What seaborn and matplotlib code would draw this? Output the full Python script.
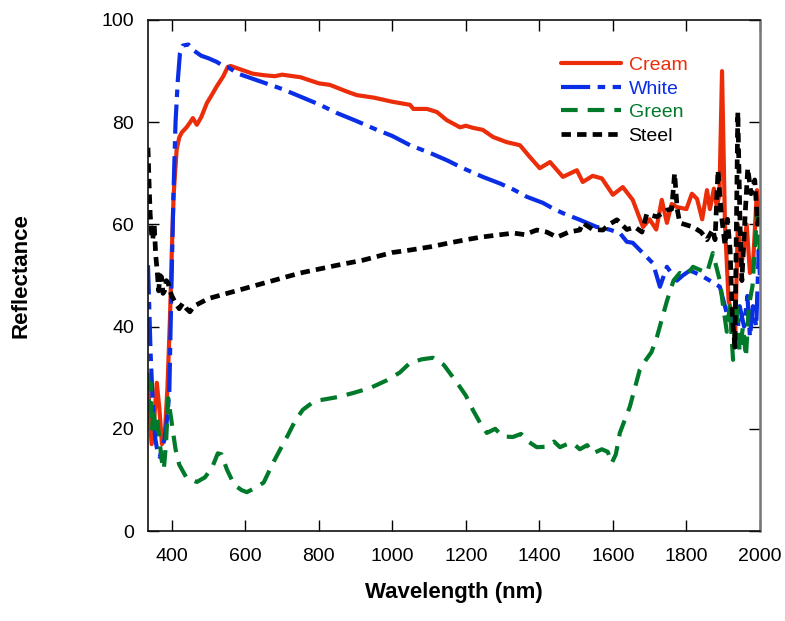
import matplotlib
matplotlib.use("Agg")
import matplotlib.pyplot as plt
import seaborn as sns
import pandas as pd

# wavelength (nm) / reflectance (%)
cream_x = [335, 340, 345, 352, 359, 366, 373, 380, 388, 395, 400, 405, 413, 420, 427, 440, 450, 457, 468, 480,
           495, 510, 522, 540, 552, 560, 580, 600, 620, 650, 680, 700, 750, 800, 830, 876, 903, 950, 1000, 1048,
           1057, 1094, 1121, 1148, 1184, 1200, 1219, 1246, 1274, 1311, 1347, 1374, 1401, 1429, 1464, 1502, 1518,
           1545, 1570, 1600, 1627, 1654, 1682, 1700, 1718, 1733, 1747, 1760, 1774, 1800, 1815, 1829, 1843, 1856,
           1864, 1875, 1883, 1890, 1897, 1905, 1915, 1927, 1932, 1940, 1950, 1964, 1973, 1982, 1992, 2000]
cream_y = [30, 22, 17, 22, 29, 24, 17, 18, 28, 42, 55, 66, 74.6, 77, 78, 79, 80, 80.8, 79.5, 81,
           83.7, 85.5, 87, 89, 90.8, 91, 90.5, 90, 89.5, 89.2, 89, 89.3, 88.8, 87.6, 87.3, 86, 85.3, 84.8, 84, 83.4,
           82.6, 82.6, 82, 80.4, 79, 79.3, 78.9, 78.5, 77.1, 76.1, 75.5, 73.2, 71, 72.2, 69.3, 70.6, 68.3,
           69.5, 69, 65.8, 67.3, 64.8, 59.5, 61, 59, 64.8, 60.3, 64, 63.4, 63, 66, 65, 61, 66.7,
           63, 67, 63.4, 66, 90, 60, 45, 42, 36, 60, 52, 60, 50.5, 53, 66.7, 60]

white_x = [335, 338, 342, 348, 355, 361, 367, 373, 380, 387, 393, 398, 404, 410, 416, 422, 430, 445, 460, 480,
           500, 522, 540, 552, 580, 620, 660, 700, 750, 800, 849, 900, 958, 1000, 1048, 1102, 1150, 1192, 1246,
           1293, 1330, 1366, 1410, 1440, 1464, 1510, 1556, 1590, 1619, 1638, 1654, 1680, 1709, 1728, 1747, 1774,
           1790, 1810, 1840, 1864, 1891, 1910, 1927, 1936, 1945, 1957, 1966, 1973, 1981, 1990, 1997, 2000]
white_y = [52, 45, 35, 25, 18, 15.5, 14.5, 16, 18, 22, 27, 45, 65, 80, 88, 93.5, 95, 95.2, 94, 93,
           92.5, 91.8, 91, 90.8, 89.5, 88.5, 87.5, 86.5, 85, 83.5, 81.8, 80.3, 78.5, 77.3, 75.5, 74, 72.5, 71, 69.3,
           68, 66.8, 65.4, 64.2, 63, 62.2, 60.9, 59.5, 59, 58.3, 56.6, 56.4, 54.5, 52.4, 47.8, 51.7, 49,
           50, 51, 50, 49, 47.8, 42.6, 41.3, 36, 44, 40, 46, 38, 44, 40, 55, 50]

green_x = [335, 338, 342, 346, 350, 355, 360, 366, 372, 378, 384, 390, 396, 402, 410, 420, 440, 468, 490, 510,
           525, 535, 550, 570, 590, 604, 631, 650, 675, 695, 716, 735, 756, 780, 803, 850, 893, 940, 985, 1020,
           1048, 1080, 1110, 1140, 1176, 1200, 1219, 1240, 1257, 1280, 1300, 1328, 1350, 1370, 1393, 1420, 1440,
           1456, 1475, 1491, 1510, 1530, 1546, 1570, 1586, 1597, 1608, 1619, 1646, 1673, 1690, 1705, 1720, 1747,
           1765, 1782, 1800, 1818, 1840, 1856, 1872, 1891, 1900, 1910, 1918, 1927, 1936, 1945, 1954, 1962, 1970,
           1980, 1992, 2000]
green_y = [31, 24, 29, 20, 24, 20, 22, 18, 14, 12, 17, 26, 23, 20, 16, 13, 10.4, 9.6, 10.5, 12.5,
           15.2, 15, 12, 9, 8, 7.6, 8.6, 9.5, 13.3, 16, 18.8, 21.5, 23.7, 25, 25.6, 26.2, 27, 28, 29.5, 31,
           32.9, 33.6, 33.9, 32.5, 29, 26.5, 23.7, 21, 19.2, 20, 18.5, 18.4, 19, 17.5, 16.4, 16.5, 17.5,
           16.4, 17, 17.2, 16, 16.8, 15.2, 16, 15.5, 13.3, 15, 19.2, 24.3, 31.5, 33.5, 35, 38, 45,
           49, 50.5, 50, 51.7, 51, 50.5, 54.4, 49, 44, 39, 44, 33.5, 45, 35, 40, 34, 44,
           48, 62, 55]

steel_x = [335, 338, 341, 345, 348, 352, 356, 360, 364, 368, 372, 376, 380, 385, 390, 395, 400, 410, 420, 430,
           440, 449, 460, 476, 500, 550, 600, 675, 750, 849, 920, 1000, 1050, 1102, 1150, 1200, 1240, 1284, 1330,
           1360, 1393, 1420, 1448, 1480, 1510, 1518, 1545, 1573, 1590, 1611, 1638, 1660, 1679, 1692, 1720, 1747,
           1760, 1768, 1775, 1782, 1818, 1840, 1856, 1872, 1878, 1886, 1895, 1905, 1912, 1919, 1925, 1932, 1940,
           1946, 1951, 1960, 1967, 1976, 1986, 1994, 2000]
steel_y = [75, 68, 62, 58, 57, 60, 54, 51, 47, 50, 49.7, 46.5, 47, 49, 48.5, 47, 46, 44.6, 43.5, 44.6,
           43.5, 42.9, 44, 44.6, 45.5, 46.5, 47.5, 49, 50.5, 52, 53, 54.5, 55, 55.6, 56.3, 57, 57.5, 57.9, 58.3,
           58, 58.9, 58.5, 57.5, 58.5, 58.9, 60.3, 59, 58.9, 60, 60.9, 59, 59.5, 58.5, 62, 61.5, 62.8,
           63, 70, 63, 60.3, 59.5, 58.5, 57, 59, 57, 70.6, 62, 56, 61, 55, 42, 36, 82,
           60, 49, 62, 71, 66, 68.7, 60, 62]

materials = ["Cream", "White", "Green", "Steel"]
colors = {"Cream": "#eb2d0a", "White": "#0a2de6", "Green": "#007a2a", "Steel": "#000000"}
dash_map = {"Cream": "", "White": (7, 1.8, 1.8, 1.8), "Green": (4, 2.4), "Steel": (2, 1.3)}

frames = []
for name, xs, ys in [("Cream", cream_x, cream_y), ("White", white_x, white_y),
                     ("Green", green_x, green_y), ("Steel", steel_x, steel_y)]:
    frames.append(pd.DataFrame({"wavelength": xs, "reflectance": ys, "material": name}))
df = pd.concat(frames, ignore_index=True)

sns.set_style("ticks")
plt.rcParams["font.family"] = ["Liberation Sans", "DejaVu Sans"]
plt.rcParams.update({"text.color": "black", "axes.labelcolor": "black",
                     "xtick.color": "black", "ytick.color": "black"})

fig = plt.figure(figsize=(7.85, 6.21), dpi=100)
ax = fig.add_axes([0.1885, 0.1449, 0.7795, 0.8229])

sns.lineplot(data=df, x="wavelength", y="reflectance", hue="material", style="material",
             hue_order=materials, style_order=materials, palette=colors, dashes=dash_map,
             estimator=None, sort=False, linewidth=3, legend=False, ax=ax)
ax.lines[3].set_linewidth(3.4)

ax.set_xlim(335, 2000)
ax.set_ylim(0, 100)
ax.set_xticks(range(400, 2001, 200))
ax.set_yticks(range(0, 101, 20))
ax.tick_params(direction="in", top=True, right=True, length=8, width=1, labelsize=14)
ax.tick_params(axis="x", pad=12)
ax.tick_params(axis="y", pad=10)
for side in ax.spines.values():
    side.set_linewidth(1.2)
    side.set_color("#111111")
ax.spines["right"].set_color("#777777")
ax.spines["right"].set_linewidth(1.8)

ax.set_xlabel("Wavelength (nm)", fontsize=16, fontweight="bold")
ax.set_ylabel("Reflectance", fontsize=16, fontweight="bold")
ax.xaxis.set_label_coords(0.5, -0.1)
ax.yaxis.set_label_coords(-0.19, 0.5)

ax.legend(ax.lines[:4], materials, loc="upper left", bbox_to_anchor=(0.652, 0.955), frameon=False,
          fontsize=14, handlelength=3.1, handletextpad=0.4, labelspacing=0.3, borderpad=0.2,
          labelcolor="linecolor")

fig.savefig("out.png", dpi=100)
